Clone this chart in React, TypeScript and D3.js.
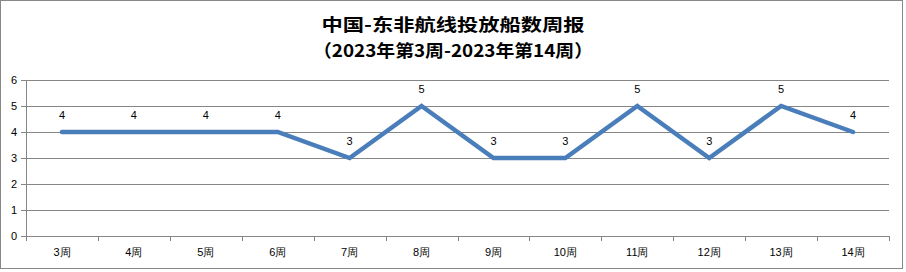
import React from "react";
import * as d3 from "d3";

const weeks = ["3周", "4周", "5周", "6周", "7周", "8周", "9周", "10周", "11周", "12周", "13周", "14周"];
const ships = [4, 4, 4, 4, 3, 5, 3, 3, 5, 3, 5, 4];
const yTicks = [0, 1, 2, 3, 4, 5, 6];
const titleLines = ["中国-东非航线投放船数周报", "（2023年第3周-2023年第14周）"];

const W = 906;
const H = 272;
const left = 26;
const right = 889;
const top = 80;
const bottom = 236;

export default function App() {
  const x = d3.scaleBand<string>().domain(weeks).range([left, right]);
  const y = d3.scaleLinear().domain([0, 6]).range([bottom, top]);
  const line = d3
    .line<number>()
    .x((_, i) => (x(weeks[i]) as number) + x.bandwidth() / 2)
    .y((d) => y(d));
  const font = "'Liberation Sans', Arial, sans-serif";
  const boundaries = weeks.map((w) => x(w) as number).concat([right]);
  const titleWidths = [263, 280];

  return (
    <svg width={W} height={H} style={{ position: "absolute", left: 0, top: 0 }}>
      <rect x={0} y={0} width={W} height={H} fill="#fff" />
      <rect x={0.5} y={0.5} width={902} height={268} fill="none" stroke="#888" strokeWidth={1} />
      {titleLines.map((t, i) => (
        <text
          key={t}
          x={453 - titleWidths[i] / 2}
          y={31 + i * 25.5}
          textLength={titleWidths[i]}
          lengthAdjust="spacingAndGlyphs"
          fontFamily="'Noto Sans CJK SC', sans-serif"
          fontWeight="bold"
          fontSize={17.5}
          fill="#000"
        >
          {t}
        </text>
      ))}
      {yTicks.map((t) => (
        <g key={t}>
          <line x1={left - 5} x2={right} y1={Math.round(y(t)) + 0.5} y2={Math.round(y(t)) + 0.5} stroke="#868686" strokeWidth={1} />
          <text x={14} y={y(t) + 4} textAnchor="middle" fontFamily={font} fontSize={11} fill="#000">
            {t}
          </text>
        </g>
      ))}
      <line x1={left + 0.5} x2={left + 0.5} y1={top} y2={bottom + 5} stroke="#868686" />
      {boundaries.map((b, i) => (
        <line key={i} x1={Math.round(b) + 0.5} x2={Math.round(b) + 0.5} y1={bottom} y2={bottom + 5} stroke="#868686" />
      ))}
      {weeks.map((w) => (
        <text
          key={w}
          x={(x(w) as number) + x.bandwidth() / 2}
          y={256}
          textAnchor="middle"
          fontFamily={font}
          fontSize={11}
          fill="#000"
        >
          {w}
        </text>
      ))}
      <path d={line(ships) || ""} fill="none" stroke="#4A7EBB" strokeWidth={4.5} strokeLinejoin="miter" strokeLinecap="round" />
      {ships.map((v, i) => (
        <text
          key={i}
          x={(x(weeks[i]) as number) + x.bandwidth() / 2}
          y={y(v) - 13}
          textAnchor="middle"
          fontFamily={font}
          fontSize={11}
          fill="#000"
        >
          {v}
        </text>
      ))}
    </svg>
  );
}
